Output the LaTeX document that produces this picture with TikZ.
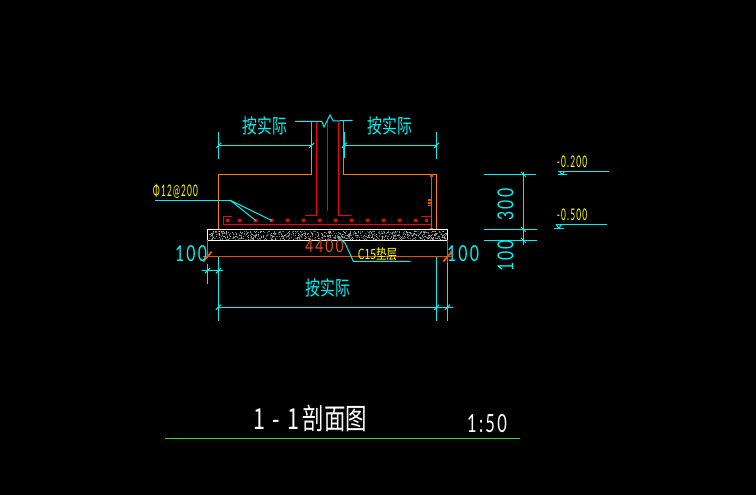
\documentclass[tikz,border=0pt]{standalone}
\usepackage{fontspec}
\setmainfont{Liberation Sans}
\newfontfamily\cjk{Noto Sans CJK SC}
\newfontfamily\cadfont[LetterSpace=14]{Lato}
\definecolor{dimcyan}{RGB}{0,240,240}
\definecolor{outline}{RGB}{255,127,0}
\definecolor{slab}{RGB}{222,82,16}
\definecolor{rebar}{RGB}{255,0,0}
\definecolor{note}{RGB}{255,255,0}
\definecolor{rule}{RGB}{40,220,40}
\tikzset{
  dimline/.style={draw=dimcyan,line width=1pt},
  orangeline/.style={draw=outline,line width=1pt},
  slabline/.style={draw=slab,line width=1pt},
  barline/.style={draw=rebar,line width=1pt},
  dimtext/.style={text=dimcyan,inner sep=0pt,font=\cadfont\fontsize{22}{22}\selectfont,xscale=.72},
  widthtext/.style={text=dimcyan,inner sep=0pt,font=\cjk\fontsize{20}{20}\selectfont,xscale=.74},
  notetext/.style={text=note,inner sep=0pt,font=\cadfont\fontsize{16}{16}\selectfont,xscale=.52},
}
\begin{document}
\begin{tikzpicture}[x=1pt,y=-1pt]

      \fill[black] (0,0) rectangle (756,495);
      \useasboundingbox (0,0) rectangle (756,495);

      % foundation outline
      \draw[orangeline] (218.5,229) -- (218.5,174.5) -- (311.7,174.5) -- (311.7,121.5);
      \draw[orangeline] (343.5,121.5) -- (343.5,174.5) -- (436.5,174.5) -- (436.5,229);
      \draw[slabline] (431,174) -- (431,229);
      \draw[slab,line width=2pt] (429.5,175.5) -- (432.5,175.5);
      \draw[slab,line width=2pt] (429.5,228.5) -- (432.5,228.5);
      \foreach \y in {200,203,205.5} {
        \draw[slab,line width=1.5pt] (427.5,\y) -- (431.5,\y);
      }

      % column and bars
      \draw[barline] (305,215.3) -- (316.3,215.3) -- (316.3,121.5);
      \draw[barline] (327.5,121.5) -- (327.5,211);
      \draw[barline] (338.3,121.5) -- (338.3,215.3) -- (351,215.3);
      \draw[barline] (231.7,216.7) -- (223.5,216.7) -- (223.5,224) -- (431,224);
      \draw[barline] (421,216.5) -- (431,216.5);
      \foreach \x in {227.7,239.7,255.7,271.7,287.7,303.5,319.3,335.3,351.3,367.3,383.3,399.3,415.3,426.7} {
        \fill[rebar] (\x-1.4,219.1) rectangle (\x+1.4,221.9);
      }

      % cushion
      \pgfmathsetseed{41}
      \foreach \i in {1,...,850} {
        \pgfmathsetmacro{\dotx}{208.5+rnd*238}
        \pgfmathsetmacro{\doty}{230.5+rnd*8.8}
        \pgfmathsetmacro{\dotg}{30+rnd*45}
        \fill[white!\dotg!black] (\dotx,\doty) rectangle +(1,1);
      }
      \draw[white,line width=1pt] (207.4,229.4) rectangle (447.4,240.4);

      % slab line
      \draw[slabline] (207.4,240.4) -- (207.4,257);
      \draw[slabline] (447.4,240.4) -- (447.4,263);
      \draw[slabline] (203,256.4) -- (451,256.4);
      \draw[slab,line width=2pt] (203,261.7) -- (211.7,251.7);
      \draw[slab,line width=2pt] (443.3,261.7) -- (451.7,251.7);
      \node[text=slab,inner sep=0pt,font=\cadfont\fontsize{18}{18}\selectfont,xscale=.78] (total) at (324.5,246) {4400};

      % width dimensions
      \draw[dimline] (218.7,132) -- (218.7,159);
      \draw[dimline] (311.7,132) -- (311.7,159);
      \draw[dimline] (344.3,132) -- (344.3,158);
      \draw[dimline] (436.5,132) -- (436.5,159);
      \draw[dimline] (218.7,145.3) -- (311.7,145.3);
      \draw[dimline] (344.3,145.3) -- (436.5,145.3);
      \draw[dimline] (218.4,257) -- (218.4,321);
      \draw[dimline] (436.5,257) -- (436.5,321);
      \draw[dimline] (447.4,263) -- (447.4,321);
      \draw[dimline] (218.4,307.3) -- (452.7,307.3);
      \draw[dimline] (207.4,264) -- (207.4,284);
      \draw[dimline] (202.3,270.7) -- (223.3,270.7);
      \foreach \x/\y in {218.7/145.3,311.7/145.3,344.3/145.3,436.5/145.3,218.4/307.3,436.5/307.3,447.4/307.3,207.4/270.7,218.4/270.7} {
        \draw[dimline] (\x-2.5,\y+2.5) -- (\x+2.5,\y-2.5);
      }
      \node[widthtext] (left)   at (265,126) {按实际};
      \node[widthtext] (right)  at (390,126) {按实际};
      \node[widthtext] (bottom) at (328,288) {按实际};
      \node[dimtext] (leftgap)  at (191,253.5) {100};
      \node[dimtext] (rightgap) at (463,253.5) {100};

      % break line
      \draw[dimline] (295,121.3) -- (321.7,121.3) -- (324,127) -- (330,115) -- (333.3,121) -- (352.7,120.3);

      % height dimensions
      \draw[dimline] (523.3,172) -- (523.3,245);
      \draw[dimline] (484,174.3) -- (536,174.3);
      \draw[dimline] (484,229.3) -- (537,229.3);
      \draw[dimline] (484,240.3) -- (537,240.3);
      \foreach \y in {174.3,229.3,240.3} {
        \draw[dimline] (520.8,\y-2.5) -- (525.8,\y+2.5);
      }
      \node[rotate=90,dimtext] (high) at (505.5,204.5) {300};
      \node[rotate=90,dimtext] (low)  at (505.5,256) {100};

      % levels
      \node[notetext] (lvla) at (572,162) {-0.200};
      \node[notetext] (lvlb) at (572,215) {-0.500};
      \draw[dimline] (558,171.5) -- (609,171.5);
      \draw[dimline] (558,174.5) -- (567,174.5);
      \draw[dimline] (559.5,171.5) -- (562,174.5) -- (564.5,171.5);
      \draw[dimline] (556,224.7) -- (607,224.7);
      \draw[dimline] (554,228.3) -- (564,228.3);
      \draw[dimline] (556.3,224.7) -- (559,228.3) -- (561.3,224.7);

      % notes
      \node[notetext] (rebarnote) at (175.5,191) {Φ12@200};
      \coordinate (knee) at (230.3,200.3);
      \draw[dimline] (155,200.3) -- (knee);
      \draw[dimline] (knee) -- (255.7,220.5);
      \draw[dimline] (knee) -- (271.7,220.5);
      \node[text=note,inner sep=0pt,font=\cjk\fontsize{14}{14}\selectfont,xscale=.75] (cushionnote) at (377.5,254) {C15垫层};
      \draw[dimline] (338,236.7) -- (345,243) -- (353.3,261.3) -- (410.7,261.3);

      % title
      \node[text=white,inner sep=0pt,font=\cjk\fontsize{29}{29}\selectfont,xscale=.74] (title) at (310.5,418.5) {1\hspace{9pt}-\hspace{10pt}1\hspace{5pt}剖面图};
      \node[text=white,inner sep=0pt,font=\cadfont\fontsize{25}{25}\selectfont,xscale=.66] (ratio) at (487,424) {1:50};
      \draw[rule,line width=1pt] (165,438.4) -- (520,438.4);

    \end{tikzpicture}
\end{document}
